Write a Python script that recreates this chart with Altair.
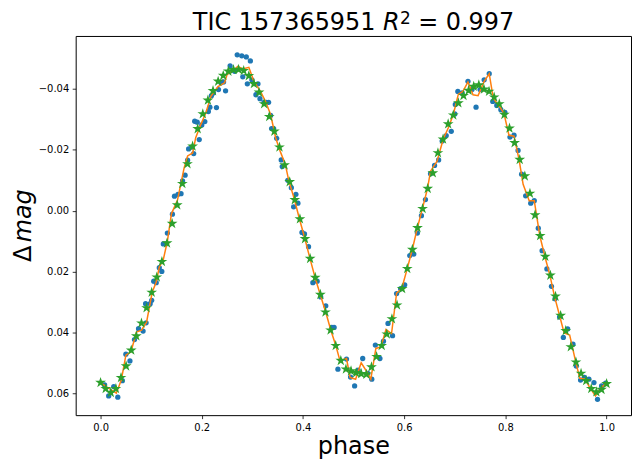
import altair as alt
import numpy as np
import pandas as pd

# ---- binned model (green stars), 100 bins from phase 0 to 1 ----
star_mag = [
    0.0564, 0.0584, 0.0597, 0.0584, 0.0548, 0.0510, 0.0458, 0.0411, 0.0369, 0.0319,
    0.0268, 0.0218, 0.0167, 0.0106, 0.0042, -0.0019, -0.0089, -0.0154, -0.0212, -0.0269,
    -0.0318, -0.0363, -0.0394, -0.0425, -0.0444, -0.0458, -0.0463, -0.0464, -0.0460, -0.0443,
    -0.0417, -0.0389, -0.0351, -0.0309, -0.0261, -0.0209, -0.0150, -0.0095, -0.0036, 0.0027,
    0.0092, 0.0157, 0.0219, 0.0275, 0.0333, 0.0392, 0.0443, 0.0492, 0.0520, 0.0526,
    0.0532, 0.0535, 0.0537, 0.0513, 0.0479, 0.0443, 0.0405, 0.0355, 0.0310, 0.0256,
    0.0190, 0.0127, 0.0056, -0.0007, -0.0073, -0.0124, -0.0190, -0.0235, -0.0285, -0.0314,
    -0.0354, -0.0378, -0.0395, -0.0408, -0.0413, -0.0399, -0.0392, -0.0373, -0.0351, -0.0316,
    -0.0271, -0.0223, -0.0168, -0.0114, -0.0057, 0.0014, 0.0082, 0.0150, 0.0212, 0.0281,
    0.0344, 0.0394, 0.0447, 0.0497, 0.0534, 0.0558, 0.0584, 0.0595, 0.0587, 0.0568,
]
star_phase = [float(v) for v in np.linspace(0.0, 1.0, len(star_mag))]

# ---- observed points (blue dots) ----
dot_phase = [
    0.008, 0.016, 0.026, 0.034, 0.043, 0.050, 0.058, 0.067, 0.075, 0.084,
    0.090, 0.089, 0.098, 0.101, 0.105, 0.110, 0.116, 0.121, 0.124, 0.129,
    0.132, 0.142, 0.146, 0.153, 0.159, 0.162, 0.167, 0.172, 0.174, 0.180,
    0.184, 0.186, 0.191, 0.195, 0.200, 0.206, 0.213, 0.216, 0.219, 0.223,
    0.229, 0.233, 0.238, 0.243, 0.247, 0.256, 0.265, 0.270, 0.279, 0.288,
    0.296, 0.281, 0.290, 0.299, 0.307, 0.311, 0.315, 0.323, 0.327, 0.332,
    0.336, 0.338, 0.342, 0.348, 0.357, 0.359, 0.370, 0.377, 0.386, 0.3815,
    0.390, 0.398, 0.403, 0.411, 0.4195, 0.428, 0.435, 0.445, 0.457, 0.4615,
    0.469, 0.486, 0.494, 0.502, 0.509, 0.518, 0.528, 0.536, 0.543, 0.552,
    0.559, 0.568, 0.577, 0.585, 0.593, 0.601, 0.611, 0.619, 0.626, 0.634,
    0.642, 0.652, 0.660, 0.668, 0.675, 0.683, 0.693, 0.700, 0.706, 0.701,
    0.7145, 0.726, 0.734, 0.742, 0.750, 0.758, 0.768, 0.775, 0.783, 0.791,
    0.799, 0.809, 0.817, 0.825, 0.832, 0.840, 0.850, 0.857, 0.865, 0.8725,
    0.882, 0.891, 0.898, 0.907, 0.9145, 0.923, 0.9335, 0.940, 0.9485, 0.956,
    0.965, 0.975, 0.982, 0.990, 0.998,
]
dot_mag = [
    0.0572, 0.0608, 0.0577, 0.0612, 0.0558, 0.0471, 0.0493, 0.0423, 0.0387, 0.0395,
    0.0368, 0.0305, 0.0305, 0.0294, 0.0231, 0.0236, 0.0187, 0.0199, 0.0109, 0.0109,
    0.0073, 0.0011, -0.0048, -0.0054, -0.0056, -0.0098, -0.0117, -0.0166, -0.0203, -0.0209,
    -0.0188, -0.0294, -0.0291, -0.0234, -0.0282, -0.0293, -0.0326, -0.0340, -0.0378, -0.0387,
    -0.0339, -0.0398, -0.0420, -0.0423, -0.0394, -0.0476, -0.0458, -0.0512, -0.0509, -0.0505,
    -0.0492, -0.0440, -0.0417, -0.0430, -0.0381, -0.0417, -0.0368, -0.0356, -0.0356, -0.0356,
    -0.0313, -0.0270, -0.0270, -0.0238, -0.0167, -0.0145, -0.0100, -0.0076, -0.0054, -0.0013,
    -0.0025, 0.0071, 0.0076, 0.0118, 0.0236, 0.0231, 0.0283, 0.0312, 0.0383, 0.0383,
    0.0520, 0.0487, 0.0546, 0.0575, 0.0523, 0.0485, 0.0534, 0.0553, 0.0441, 0.0485,
    0.0428, 0.0370, 0.0410, 0.0272, 0.0256, 0.0243, 0.0147, 0.0142, 0.0073, 0.0016,
    -0.0037, -0.0122, -0.0149, -0.0167, -0.0229, -0.0247, -0.0261, -0.0318, -0.0392, -0.0349,
    -0.0387, -0.0425, -0.0398, -0.0340, -0.0398, -0.0430, -0.0450, -0.0359, -0.0346, -0.0332,
    -0.0323, -0.0242, -0.0248, -0.0198, -0.0120, -0.0049, -0.0025, -0.0033, 0.0057, 0.0131,
    0.0191, 0.0248, 0.0289, 0.0349, 0.0416, 0.0388, 0.0438, 0.0510, 0.0556, 0.0547,
    0.0553, 0.0564, 0.0619, 0.0575, 0.0566,
]

# ---- model curve (orange line) ----
line_phase = [
    0.000, 0.031, 0.041, 0.050, 0.060, 0.071, 0.081, 0.091, 0.102, 0.110,
    0.116, 0.124, 0.132, 0.140, 0.152, 0.165, 0.172, 0.182, 0.188, 0.198,
    0.208, 0.218, 0.232, 0.245, 0.250, 0.264, 0.271, 0.281, 0.293, 0.303,
    0.316, 0.326, 0.336, 0.346, 0.355, 0.365, 0.372, 0.383, 0.393, 0.403,
    0.414, 0.424, 0.434, 0.445, 0.455, 0.465, 0.473, 0.486, 0.493, 0.504,
    0.515, 0.526, 0.534, 0.544, 0.554, 0.564, 0.575, 0.585, 0.595, 0.606,
    0.616, 0.626, 0.636, 0.646, 0.652, 0.665, 0.677, 0.687, 0.697, 0.707,
    0.716, 0.726, 0.736, 0.746, 0.758, 0.768, 0.776, 0.788, 0.797, 0.807,
    0.817, 0.827, 0.835, 0.847, 0.857, 0.868, 0.878, 0.888, 0.897, 0.907,
    0.916, 0.927, 0.939, 0.947, 0.957, 0.968, 0.978, 0.988, 0.998,
]
line_mag = [
    0.0565, 0.0599, 0.0556, 0.0474, 0.0463, 0.0398, 0.0392, 0.0365, 0.0267, 0.0234,
    0.0185, 0.0160, 0.0100, 0.0010, -0.0035, -0.0140, -0.0180, -0.0190, -0.0240, -0.0283,
    -0.0321, -0.0376, -0.0408, -0.0420, -0.0447, -0.0463, -0.0474, -0.0466, -0.0471, -0.0425,
    -0.0392, -0.0359, -0.0316, -0.0240, -0.0195, -0.0153, -0.0098, -0.0038, 0.0027, 0.0087,
    0.0158, 0.0220, 0.0275, 0.0333, 0.0392, 0.0443, 0.0492, 0.0485, 0.0547, 0.0553,
    0.0499, 0.0528, 0.0553, 0.0452, 0.0447, 0.0390, 0.0403, 0.0270, 0.0256, 0.0190,
    0.0127, 0.0056, -0.0007, -0.0073, -0.0130, -0.0163, -0.0235, -0.0272, -0.0316, -0.0383,
    -0.0392, -0.0423, -0.0381, -0.0378, -0.0425, -0.0450, -0.0370, -0.0343, -0.0321, -0.0248,
    -0.0245, -0.0168, -0.0087, -0.0033, -0.0033, 0.0082, 0.0150, 0.0212, 0.0281, 0.0344,
    0.0401, 0.0408, 0.0497, 0.0550, 0.0553, 0.0584, 0.0608, 0.0583, 0.0568,
]

x_ticks = [0.0, 0.2, 0.4, 0.6, 0.8, 1.0]
y_ticks = [-0.04, -0.02, 0.00, 0.02, 0.04, 0.06]

FONT = "DejaVu Sans"
W, H = 558, 381
STAR = ("M0,-1L0.2245,-0.309L0.951,-0.309L0.3633,0.118L0.5878,0.809L0,0.382"
        "L-0.5878,0.809L-0.3633,0.118L-0.951,-0.309L-0.2245,-0.309Z")

dots = pd.DataFrame({"phase": dot_phase, "mag": dot_mag})
line = pd.DataFrame({"phase": line_phase, "mag": line_mag})
stars = pd.DataFrame({"phase": star_phase, "mag": star_mag})

x_axis = alt.Axis(orient="bottom", values=x_ticks, format=".1f", grid=False, domain=False,
                  tickSize=3.5, tickColor="black", tickWidth=0.8,
                  labelFontSize=10, labelColor="black", labelPadding=3.5, labelFont=FONT,
                  title="phase", titleFontSize=24, titleFontWeight="normal",
                  titleColor="black", titleFont=FONT, titlePadding=3)
y_axis = alt.Axis(orient="left", values=y_ticks, format=".2f", grid=False, domain=False,
                  tickSize=3.5, tickColor="black", tickWidth=0.8,
                  labelFontSize=10, labelColor="black", labelPadding=3.5, labelFont=FONT,
                  labelExpr="replace(datum.label, '-', '\u2212')",
                  title=None)

x_scale = alt.Scale(domain=[-0.0492, 1.0482], nice=False, zero=False)
y_scale = alt.Scale(domain=[-0.0574, 0.0671], nice=False, zero=False, reverse=True)

dot_layer = alt.Chart(dots).mark_circle(color="#1f77b4", size=28, opacity=1).encode(
    x=alt.X("phase:Q", scale=x_scale, axis=x_axis),
    y=alt.Y("mag:Q", scale=y_scale, axis=y_axis))
line_layer = alt.Chart(line).mark_line(color="#ff7f0e", strokeWidth=1.5).encode(
    x=alt.X("phase:Q"), y=alt.Y("mag:Q"), order="phase:Q")
star_layer = alt.Chart(stars).mark_point(shape=STAR, filled=True, color="#2ca02c",
                                         size=130, opacity=1).encode(
    x=alt.X("phase:Q"), y=alt.Y("mag:Q"))

one = pd.DataFrame({"k": [0]})

def txt(s, x, y, size=24, style="normal", angle=0):
    return alt.Chart(one).mark_text(text=s, font=FONT, fontSize=size, fontStyle=style,
                                    align="left", baseline="alphabetic", angle=angle,
                                    color="black").encode(x=alt.value(x), y=alt.value(y))

cx = W / 2
start = cx - 161.3
title_parts = [
    txt("TIC 157365951", start, -6),
    txt("R", start + 191.1, -6, style="italic"),
    txt("2", start + 208.3, -12.5, size=17),
    txt("= 0.997", start + 226.5, -6),
]
ylab_parts = [
    txt("\u0394", -45, H / 2 + 36.5, angle=270),
    txt("mag", -45, H / 2 + 36.5 - 19.6, style="italic", angle=270),
]

chart = alt.layer(dot_layer, line_layer, star_layer, *title_parts, *ylab_parts).properties(
    width=W, height=H,
    autosize=alt.AutoSizeParams(type="none"),
    padding={"left": 68, "top": 27, "right": 2, "bottom": 50},
    background="white",
).configure(font=FONT).configure_view(stroke="black", strokeWidth=1)

chart.save("out.html", embed_options={"renderer": "svg", "actions": False})
